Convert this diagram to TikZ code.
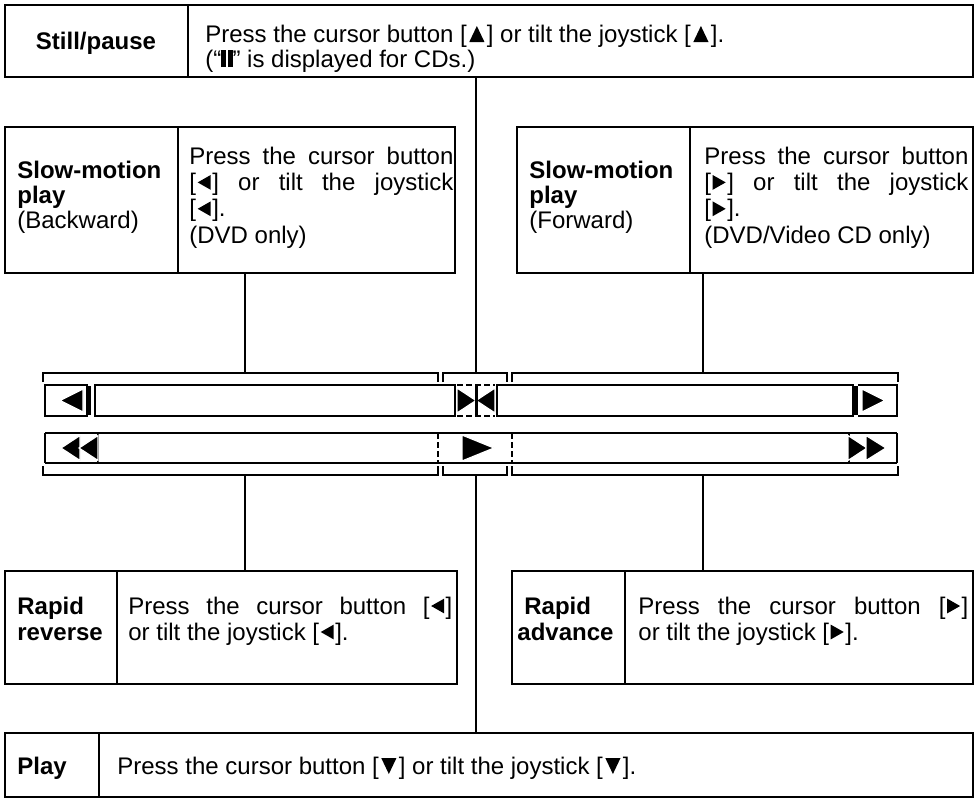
\documentclass[tikz,border=0pt]{standalone}
\usepackage{fontspec}
\setmainfont{Liberation Sans}
\usetikzlibrary{fit}
\newcommand{\mycol}[3]{\parbox[t]{#1}{\raggedright\setlength{\baselineskip}{#2}#3}}
\newcommand{\jline}[1]{\makebox[\linewidth][s]{#1}}
\newcommand{\pausesym}{\rule{2.2pt}{8.5pt}\hspace{1.2pt}\rule{2.2pt}{8.5pt}}
\newcommand{\symL}{\kern0.8pt\tikz[x=1pt,y=1pt,baseline=0pt]\fill (0,4) -- (6.5,0.3) -- (6.5,7.7) -- cycle;\kern0.8pt}
\newcommand{\symR}{\kern0.8pt\tikz[x=1pt,y=1pt,baseline=0pt]\fill (6.5,4) -- (0,0.3) -- (0,7.7) -- cycle;\kern0.8pt}
\newcommand{\symU}{\kern1.2pt\tikz[x=1pt,y=1pt,baseline=0pt]\fill (3.8,8) -- (0,0) -- (7.6,0) -- cycle;\kern1.2pt}
\newcommand{\symD}{\kern1.2pt\tikz[x=1pt,y=1pt,baseline=0pt]\fill (3.8,0) -- (0,8) -- (7.6,8) -- cycle;\kern1.2pt}
\begin{document}
\begin{tikzpicture}[x=0.5pt,y=-0.5pt,
  every node/.style={font=\fontsize{12}{13}\selectfont},
  frame/.style={draw, line width=1pt, inner sep=0pt},
  cell/.style={anchor=base west, inner sep=0pt},
  head/.style={anchor=base west, inner sep=0pt, font=\fontsize{12}{13}\selectfont\bfseries},
  link/.style={line width=1pt},
  bar/.style={line width=1pt},
  dbar/.style={line width=0.8pt, dash pattern=on 3pt off 1.5pt},
  sym/.style={fill=black, draw=white, line width=0.6pt},
]
\useasboundingbox (0,0) rectangle (978,803);

% ---------- boxes ----------
\node[frame, fit={(5,5)(973,77)}] (still) {};
\node[frame, fit={(5,127)(455,273)}] (slowB) {};
\node[frame, fit={(517,127)(973,273)}] (slowF) {};
\node[frame, fit={(5,571)(457,684)}] (rapR) {};
\node[frame, fit={(512,571)(973,684)}] (rapA) {};
\node[frame, fit={(5,733)(973,797)}] (play) {};

% dividers
\coordinate (dStill) at (188,5);
\coordinate (dSlowB) at (178,127);
\coordinate (dSlowF) at (690,127);
\coordinate (dRapR) at (117,571);
\coordinate (dRapA) at (625,571);
\coordinate (dPlay) at (99,733);
\draw[bar] (dStill) -- (dStill |- still.south);
\draw[bar] (dSlowB) -- (dSlowB |- slowB.south);
\draw[bar] (dSlowF) -- (dSlowF |- slowF.south);
\draw[bar] (dRapR) -- (dRapR |- rapR.south);
\draw[bar] (dRapA) -- (dRapA |- rapA.south);
\draw[bar] (dPlay) -- (dPlay |- play.south);

% ---------- texts ----------
\node[head, anchor=base] (stillH) at (96,49) {Still/pause};
\node[cell] (stillT) at (205,42) {\mycol{380pt}{12.5pt}{Press the cursor button [\symU] or tilt the joystick [\symU].\\(“\pausesym” is displayed for CDs.)}};

\node[head] (slowBH) at (17,178) {\mycol{80pt}{12.7pt}{Slow-motion\\play\\\mdseries(Backward)}};
\node[cell] (slowBT) at (189,164) {\mycol{132pt}{13.2pt}{\jline{Press the cursor button}\\\jline{[\symL] or tilt the joystick}\\{}[\symL].\\(DVD only)}};

\node[head] (slowFH) at (529,178) {\mycol{80pt}{12.7pt}{Slow-motion\\play\\\mdseries(Forward)}};
\node[cell] (slowFT) at (704,164) {\mycol{132pt}{13.2pt}{\jline{Press the cursor button}\\\jline{[\symR] or tilt the joystick}\\{}[\symR].\\(DVD/Video CD only)}};

\node[head] (rapRH) at (17,614) {\mycol{60pt}{13pt}{Rapid\\reverse}};
\node[cell] (rapRT) at (128,614) {\mycol{162pt}{13pt}{\jline{Press the cursor button [\symL]}\\or tilt the joystick [\symL].}};

\node[head] (rapAH) at (517,614) {\mycol{60pt}{13pt}{\hspace*{3.5pt}Rapid\\advance}};
\node[cell] (rapAT) at (638,614) {\mycol{165pt}{13pt}{\jline{Press the cursor button [\symR]}\\or tilt the joystick [\symR].}};

\node[head] (playH) at (17,774) {Play};
\node[cell] (playT) at (117,774) {Press the cursor button [\symD] or tilt the joystick [\symD].};

% ---------- brackets ----------
\draw[bar] (43,382) -- (43,373) -- (438,373) -- (438,382);
\draw[bar] (443,382) -- (443,373) -- (507,373) -- (507,382);
\draw[bar] (512,382) -- (512,373) -- (898,373) -- (898,382);
\draw[bar] (43,466) -- (43,475) -- (438,475) -- (438,466);
\draw[bar] (443,466) -- (443,475) -- (507,475) -- (507,466);
\draw[bar] (512,466) -- (512,475) -- (898,475) -- (898,466);

% ---------- bar 1 ----------
\draw[bar] (88,385) -- (45,385) -- (45,416) -- (88,416);
\fill (86,386) rectangle (91,415);
\fill[sym] (60,400.5) -- (83,389) -- (83,412) -- cycle;
\draw[bar] (95,385) rectangle (455,416);
\draw[dbar] (457,385) -- (495,385);
\draw[dbar] (457,416) -- (495,416);
\filldraw[sym] (457,388) -- (476,400.5) -- (457,413) -- cycle;
\filldraw[sym] (495,388) -- (476,400.5) -- (495,413) -- cycle;
\fill (474.5,386) rectangle (478,415);
\draw[bar] (497,385) rectangle (853,416);
\draw[bar] (858,385) -- (897,385) -- (897,416) -- (858,416);
\fill (852,386) rectangle (858,415);
\filldraw[sym] (862,389) -- (885,400.5) -- (862,412) -- cycle;

% ---------- bar 2 ----------
\draw[bar] (45,433) -- (897,433);
\draw[bar] (45,463) -- (897,463);
\draw[bar] (45,433) -- (45,463);
\draw[bar] (897,433) -- (897,463);
\draw[bar] (98,433) -- (98,463);
\draw[dbar] (438,433) -- (438,463);
\draw[dbar] (512,433) -- (512,463);
\draw[bar] (849,433) -- (849,463);
\filldraw[sym] (61,448) -- (80,435.5) -- (80,460.5) -- cycle;
\filldraw[sym] (79,448) -- (98,435.5) -- (98,460.5) -- cycle;
\filldraw[sym] (462,435) -- (494,448) -- (462,461) -- cycle;
\filldraw[sym] (848,435.5) -- (867,448) -- (848,460.5) -- cycle;
\filldraw[sym] (866,435.5) -- (886,448) -- (866,460.5) -- cycle;

% ---------- connectors ----------
\coordinate (bTL) at (245,373);
\coordinate (bTM) at (476,373);
\coordinate (bTR) at (703,373);
\coordinate (bBL) at (245,475);
\coordinate (bBM) at (476,475);
\coordinate (bBR) at (703,475);
\draw[link] (bTM |- still.south) -- (bTM);
\draw[link] (bTL |- slowB.south) -- (bTL);
\draw[link] (bTR |- slowF.south) -- (bTR);
\draw[link] (bBL) -- (bBL |- rapR.north);
\draw[link] (bBR) -- (bBR |- rapA.north);
\draw[link] (bBM) -- (bBM |- play.north);
\end{tikzpicture}
\end{document}
